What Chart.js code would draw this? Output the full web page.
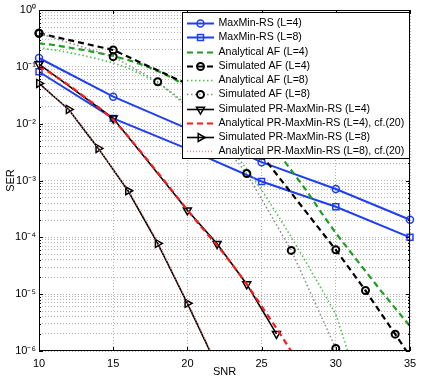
<!DOCTYPE html>
<html>
<head>
<meta charset="utf-8">
<script src="https://cdn.jsdelivr.net/npm/chart.js@4/dist/chart.umd.min.js"></script>
<style>
  html, body { margin: 0; padding: 0; background: #fff; }
</style>
</head>
<body>
<canvas id="serChart" width="436" height="382"></canvas>
<script>
// Datos (SER frente a SNR)
const snrMaxMin = [10, 15, 20, 25, 30, 35];
const serMaxMinL4 = [0.143, 0.0298, 0.0082, 0.0021, 7.1e-4, 2.04e-4];
const serMaxMinL8 = [0.082, 0.0124, 0.0036, 9.6e-4, 3.45e-4, 1.0e-4];

const snrAnalyticAfL4 = [10, 11, 12, 13, 14, 15, 16, 17, 18, 19, 20, 21, 22, 23, 24, 25, 26, 27, 28, 29, 30, 31, 32, 33, 34, 35];
const serAnalyticAfL4 = [0.259, 0.242, 0.219, 0.198, 0.175, 0.155, 0.132, 0.108, 0.0844, 0.0635, 0.0441, 0.0332, 0.024, 0.016, 0.0103, 6.05e-3, 3.3e-3, 1.52e-3, 6.78e-4, 2.78e-4, 1.19e-4, 5.48e-5, 2.54e-5, 1.18e-5, 5.67e-6, 2.73e-6];

const snrSimAfL4 = [10, 15, 20, 25, 30, 32, 34, 36];
const serSimAfL4 = [0.389, 0.198, 0.0498, 0.0028, 6.03e-5, 1.16e-5, 1.98e-6, 3.3e-7];

const snrAnalyticAfL8 = [10, 11, 12, 13, 14, 15, 16, 17, 18, 19, 20, 21, 22, 23, 24, 25, 26, 27, 28, 29, 30, 31];
const serAnalyticAfL8 = [0.217, 0.198, 0.179, 0.158, 0.137, 0.117, 0.0953, 0.0717, 0.0519, 0.0346, 0.0213, 0.0126, 6.84e-3, 3.43e-3, 1.59e-3, 6.78e-4, 2.67e-4, 1.01e-4, 3.66e-5, 1.28e-5, 4.45e-6, 6.9e-7];

const snrSimAfL8 = [10, 15, 18, 21, 24, 27, 30];
const serSimAfL8 = [0.389, 0.151, 0.0547, 0.0121, 1.33e-3, 5.88e-5, 1.11e-6];

const snrSimPrL4 = [10, 15, 20, 22, 24, 26];
const serSimPrL4 = [0.112, 0.0124, 3.0e-4, 7.7e-5, 1.5e-5, 2.0e-6];

const snrAnalyticPrL4 = [10, 11, 12, 13, 14, 15, 16, 17, 18, 19, 20, 21, 22, 23, 24, 25, 26, 27];
const serAnalyticPrL4 = [0.103, 0.0717, 0.0478, 0.0306, 0.0196, 0.0118, 6.0e-3, 2.9e-3, 1.38e-3, 6.5e-4, 3.01e-4, 1.45e-4, 7.29e-5, 3.38e-5, 1.5e-5, 6.15e-6, 2.52e-6, 9.9e-7];

const snrSimPrL8 = [10, 12, 14, 16, 18, 20, 22];
const serSimPrL8 = [0.051, 0.0178, 3.67e-3, 6.6e-4, 7.8e-5, 6.9e-6, 5.4e-7];

const snrAnalyticPrL8 = [10, 11, 12, 13, 14, 15, 16, 17, 18, 19, 20, 21, 22];
const serAnalyticPrL8 = [0.0498, 0.0306, 0.0173, 8.37e-3, 3.71e-3, 1.59e-3, 6.78e-4, 2.46e-4, 8.22e-5, 2.44e-5, 7.23e-6, 2.06e-6, 5.6e-7];

// Ejes
const xTicks = [10, 15, 20, 25, 30, 35];
const yDecades = [1e-6, 1e-5, 1e-4, 1e-3, 1e-2, 1e-1, 1];
const yDecadeLabels = ["10⁻⁶", "10⁻⁵", "10⁻⁴", "10⁻³", "10⁻²", "10⁻¹", "10⁰"];

const BLUE = "#1f3ff5";
const GREEN = "#1e9e1e";
const GREEN_LIGHT = "#4cc24c";
const RED = "#ff1a1a";

function pairs(xs, ys) {
    return xs.map((x, i) => ({ x: x, y: ys[i] }));
}

// Ocultar marcadores fuera del área de la gráfica
function markerSize(r) {
    return c => (c.raw && (c.raw.x > 35 || c.raw.y < 1e-6)) ? 0 : r;
}

function makeSeries(label, xs, ys, o) {
    return {
        label: label,
        data: pairs(xs, ys),
        borderColor: o.color,
        borderWidth: o.width,
        borderDash: o.dash || [],
        pointStyle: o.marker || "circle",
        pointRadius: o.marker ? markerSize(o.radius) : 0,
        pointRotation: o.rotation || 0,
        pointBorderColor: o.markerColor || o.color,
        pointBorderWidth: o.markerWidth || 1.5,
        pointBackgroundColor: "rgba(0,0,0,0)",
        pointHoverRadius: 0,
        tension: 0,
        fill: false,
        clip: { left: 8, right: 8, top: 0, bottom: 0 }
    };
}

const datasets = [
    makeSeries("MaxMin-RS (L=4)", snrMaxMin, serMaxMinL4, { color: BLUE, width: 2, marker: "circle", radius: 3.5 }),
    makeSeries("MaxMin-RS (L=8)", snrMaxMin, serMaxMinL8, { color: BLUE, width: 2, marker: "rect", radius: 4.2 }),
    makeSeries("Analytical AF (L=4)", snrAnalyticAfL4, serAnalyticAfL4, { color: GREEN, width: 2.2, dash: [6, 4] }),
    makeSeries("Simulated AF (L=4)", snrSimAfL4, serSimAfL4, { color: "#000", width: 2.2, dash: [6, 4], marker: "circle", radius: 3.5, markerWidth: 2 }),
    makeSeries("Analytical AF (L=8)", snrAnalyticAfL8, serAnalyticAfL8, { color: GREEN_LIGHT, width: 1.6, dash: [1.5, 2.5] }),
    makeSeries("Simulated AF (L=8)", snrSimAfL8, serSimAfL8, { color: "#8a8a8a", width: 1.5, dash: [1.5, 2.5], marker: "circle", radius: 3.5, markerColor: "#000", markerWidth: 2 }),
    makeSeries("Simulated PR-MaxMin-RS (L=4)", snrSimPrL4, serSimPrL4, { color: "#000", width: 1.6, marker: "triangle", radius: 4.6, rotation: 180 }),
    makeSeries("Analytical PR-MaxMin-RS (L=4), cf.(20)", snrAnalyticPrL4, serAnalyticPrL4, { color: RED, width: 2.2, dash: [6, 4] }),
    makeSeries("Simulated PR-MaxMin-RS (L=8)", snrSimPrL8, serSimPrL8, { color: "#000", width: 1.6, marker: "triangle", radius: 4.6, rotation: 90 }),
    makeSeries("Analytical PR-MaxMin-RS (L=8), cf.(20)", snrAnalyticPrL8, serAnalyticPrL8, { color: "#ff8080", width: 1.3, dash: [1, 2] })
];
// MATLAB dibuja encima la última serie
datasets.forEach((ds, i) => { ds.order = -i; });

function isDecade(v) {
    return yDecades.some(d => Math.abs(v / d - 1) < 1e-6);
}

// Dibuja un marcador hueco (leyenda)
function drawMarker(ctx, style, x, y, r, rotation) {
    ctx.beginPath();
    if (style === "circle") {
        ctx.arc(x, y, r, 0, Math.PI * 2);
    } else if (style === "rect") {
        const s = r * Math.SQRT1_2;
        ctx.rect(x - s, y - s, 2 * s, 2 * s);
    } else if (style === "triangle") {
        const rad = (rotation || 0) * Math.PI / 180;
        for (let k = 0; k < 3; k++) {
            const a = rad + k * 2 * Math.PI / 3 - Math.PI / 2;
            const px = x + Math.cos(a) * r;
            const py = y + Math.sin(a) * r;
            if (k === 0) ctx.moveTo(px, py); else ctx.lineTo(px, py);
        }
        ctx.closePath();
    }
    ctx.stroke();
}

// Marco y marcas interiores al estilo MATLAB
const framePlugin = {
    id: "frame",
    afterDatasetsDraw(chart) {
        const { ctx, chartArea: a, scales } = chart;
        ctx.save();
        ctx.strokeStyle = "#000";
        ctx.lineWidth = 1;
        ctx.setLineDash([]);
        ctx.strokeRect(a.left + 0.5, a.top + 0.5, a.right - a.left - 1, a.bottom - a.top - 1);
        ctx.beginPath();
        scales.x.ticks.forEach(t => {
            const px = Math.round(scales.x.getPixelForValue(t.value)) + 0.5;
            ctx.moveTo(px, a.bottom); ctx.lineTo(px, a.bottom - 4);
            ctx.moveTo(px, a.top); ctx.lineTo(px, a.top + 4);
        });
        scales.y.ticks.forEach(t => {
            const py = Math.round(scales.y.getPixelForValue(t.value)) + 0.5;
            const len = isDecade(t.value) ? 4 : 2;
            ctx.moveTo(a.left, py); ctx.lineTo(a.left + len, py);
            ctx.moveTo(a.right, py); ctx.lineTo(a.right - len, py);
        });
        ctx.stroke();
        ctx.restore();
    }
};

// Leyenda en recuadro, esquina superior derecha
const boxLegendPlugin = {
    id: "boxLegend",
    afterDatasetsDraw(chart) {
        const { ctx, chartArea: a } = chart;
        const w = 228, h = 147, rowH = 14.27;
        const left = a.right - w, top = a.top + 2;
        ctx.save();
        ctx.fillStyle = "#fff";
        ctx.fillRect(left, top, w, h);
        ctx.strokeStyle = "#000";
        ctx.lineWidth = 1;
        ctx.setLineDash([]);
        ctx.strokeRect(left + 0.5, top + 0.5, w - 1, h - 1);
        ctx.font = "10.6px 'Liberation Sans', Arial, sans-serif";
        ctx.textBaseline = "middle";
        chart.data.datasets.forEach((ds, i) => {
            const y = Math.round(top + 11 + i * rowH) + 0.5;
            ctx.strokeStyle = ds.borderColor;
            ctx.lineWidth = ds.borderWidth;
            ctx.setLineDash(ds.borderDash);
            ctx.beginPath();
            ctx.moveTo(left + 5, y);
            ctx.lineTo(left + 32, y);
            ctx.stroke();
            if (ds.pointRadius !== 0) {
                ctx.setLineDash([]);
                ctx.strokeStyle = ds.pointBorderColor;
                ctx.lineWidth = ds.pointBorderWidth;
                const r = ds.pointStyle === "triangle" ? 4.6 : (ds.pointStyle === "rect" ? 4.2 : 3.5);
                drawMarker(ctx, ds.pointStyle, left + 18.5, y, r, ds.pointRotation);
            }
            ctx.fillStyle = "#000";
            ctx.fillText(ds.label, left + 36.5, y);
        });
        ctx.restore();
    }
};

Chart.defaults.font.family = "'Liberation Sans', Arial, sans-serif";
Chart.defaults.font.size = 11;
Chart.defaults.color = "#000";

const gridStyle = { color: "#b4b4b4", lineWidth: 1, drawTicks: false };

new Chart(document.getElementById("serChart"), {
    type: "line",
    data: { datasets: datasets },
    options: {
        responsive: false,
        animation: false,
        events: [],
        layout: { padding: { top: 10, right: 26, left: 0, bottom: 0 } },
        plugins: {
            legend: { display: false },
            tooltip: { enabled: false }
        },
        scales: {
            x: {
                type: "linear",
                min: 10,
                max: 35,
                grid: gridStyle,
                border: { display: false, dash: [1, 2] },
                afterBuildTicks: scale => { scale.ticks = xTicks.map(v => ({ value: v })); },
                ticks: { padding: 6, maxRotation: 0, autoSkip: false },
                title: { display: true, text: "SNR", padding: { top: 2, bottom: 3 } },
                afterFit: scale => { scale.height = 31; }
            },
            y: {
                type: "logarithmic",
                min: 1e-6,
                max: 1,
                grid: gridStyle,
                border: { display: false, dash: [1, 2] },
                afterBuildTicks: scale => {
                    const ticks = [];
                    for (let e = -6; e < 0; e++) {
                        for (let k = 1; k <= 9; k++) {
                            ticks.push({ value: Number((k * Math.pow(10, e)).toPrecision(3)) });
                        }
                    }
                    ticks.push({ value: 1 });
                    scale.ticks = ticks;
                },
                ticks: {
                    padding: 3,
                    autoSkip: false,
                    callback: v => {
                        const idx = yDecades.findIndex(d => Math.abs(v / d - 1) < 1e-6);
                        return idx >= 0 ? yDecadeLabels[idx] : "";
                    }
                },
                title: { display: true, text: "SER", padding: { top: 4, bottom: 2 } },
                afterFit: scale => { scale.width = 39; }
            }
        }
    },
    plugins: [framePlugin, boxLegendPlugin]
});
</script>
</body>
</html>
